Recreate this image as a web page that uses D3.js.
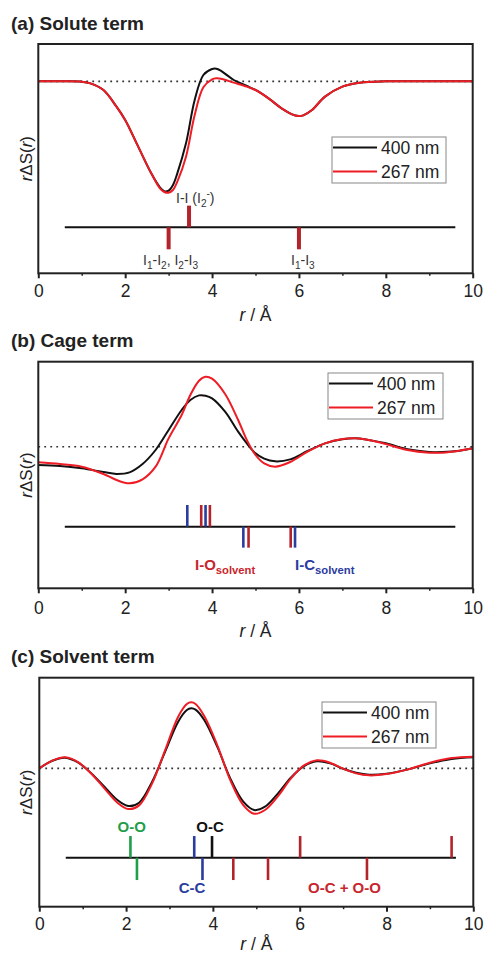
<!DOCTYPE html>
<html><head><meta charset="utf-8">
<script src="https://cdn.jsdelivr.net/npm/d3@7"></script>
<style>body{margin:0;background:#fff} svg{display:block} text{font-family:"Liberation Sans",Arial,sans-serif}</style>
</head><body>
<script>
// ---------- DATA ----------
const xTicks = [0, 2, 4, 6, 8, 10];
const xMinorTicks = [1, 3, 5, 7, 9];
const seriesNames = ["400 nm", "267 nm"];

// (a) Solute term
const soluteR   = [0,0.5,1.0,1.2,1.5,1.8,2.0,2.3,2.6,2.8,2.9,3.0,3.1,3.2,3.4,3.6,3.8,4.0,4.1,4.2,4.5,4.8,5.0,5.3,5.6,5.9,6.0,6.1,6.3,6.6,7.0,7.4,8.0,9.0,10];
const solute400 = [0,0,-0.01,-0.06,-0.26,-0.76,-1.16,-1.96,-2.76,-3.18,-3.30,-3.28,-3.11,-2.76,-1.86,-0.56,0.19,0.37,0.38,0.32,0.04,-0.14,-0.26,-0.51,-0.81,-1.02,-1.04,-1.02,-0.86,-0.46,-0.16,-0.04,0,0,0];
const solute267 = [0,0,-0.01,-0.06,-0.26,-0.76,-1.16,-1.96,-2.76,-3.21,-3.32,-3.34,-3.26,-3.01,-2.26,-1.01,-0.18,0.06,0.09,0.08,-0.04,-0.16,-0.26,-0.51,-0.81,-1.02,-1.04,-1.02,-0.86,-0.46,-0.16,-0.04,0,0,0];
const soluteSticksUp   = [3.47];
const soluteSticksDown = [3.0, 6.0];

// (b) Cage term
const cageR   = [0,0.5,1.0,1.5,1.8,2.1,2.4,2.7,3.0,3.3,3.5,3.7,3.85,4.0,4.3,4.6,4.8,5.0,5.2,5.45,5.8,6.2,6.6,7.0,7.3,7.6,8.0,8.5,9.0,9.3,9.7,10];
const cage400 = [-0.55,-0.58,-0.65,-0.76,-0.82,-0.77,-0.52,-0.10,0.50,1.10,1.40,1.54,1.53,1.45,1.05,0.45,0.10,-0.20,-0.36,-0.44,-0.38,-0.13,0.10,0.22,0.25,0.20,0.10,-0.08,-0.16,-0.16,-0.12,-0.05];
const cage267 = [-0.47,-0.52,-0.60,-0.82,-1.00,-1.10,-0.98,-0.60,0.25,0.95,1.55,1.98,2.10,2.04,1.58,0.80,0.20,-0.25,-0.50,-0.60,-0.46,-0.15,0.10,0.23,0.25,0.20,0.08,-0.10,-0.18,-0.18,-0.12,-0.05];
const cageIOUp   = [3.75, 3.95];
const cageIODown = [4.84, 5.81];
const cageICUp   = [3.43, 3.85];
const cageICDown = [4.72, 5.91];

// (c) Solvent term
const solventR   = [0,0.3,0.6,0.9,1.2,1.5,1.8,2.05,2.3,2.6,2.9,3.2,3.4,3.5,3.6,3.8,4.1,4.4,4.7,4.95,5.2,5.5,5.8,6.1,6.4,6.7,7.0,7.3,7.6,8.0,8.5,9.0,9.5,10];
const solvent400 = [0,0.23,0.32,0.17,-0.15,-0.55,-0.95,-1.13,-1.03,-0.40,0.50,1.40,1.75,1.80,1.76,1.45,0.65,-0.30,-1.00,-1.25,-1.15,-0.75,-0.27,0.07,0.21,0.15,-0.01,-0.13,-0.19,-0.16,-0.03,0.15,0.28,0.33];
const solvent267 = [0,0.23,0.33,0.18,-0.16,-0.60,-1.03,-1.22,-1.11,-0.45,0.55,1.55,1.93,1.98,1.93,1.57,0.70,-0.35,-1.10,-1.36,-1.25,-0.83,-0.30,0.09,0.24,0.17,-0.01,-0.15,-0.21,-0.17,-0.03,0.17,0.31,0.35];
const solventOOUp   = [2.10];
const solventOODown = [2.25];
const solventCCUp   = [3.57];
const solventCCDown = [3.76];
const solventOCUp   = [3.98];
const solventMixUp   = [6.01, 9.50];
const solventMixDown = [4.47, 5.27, 7.55];

// ---------- STYLE / LAYOUT ----------
const W = 486, H = 955;
const C_BLACK = "#111111", C_RED = "#ee1c24", C_DRED = "#b3232b", C_BLUE = "#2b3c9f", C_GREEN = "#1f9e4a";
const FONT = '"Liberation Sans", Arial, sans-serif';

const svg = d3.select("body").append("svg").attr("width", W).attr("height", H);

const panels = [
  { title: "(a) Solute term", r: soluteR, s1: solute400, s2: solute267,
    x0: 38.3, x1: 472.7, y0: 44, y1: 273.3, yDom: [-5.76, 1.12],
    base: -4.38, up: -3.73, down: -5.04, stickW: 4,
    legend: { x: 332, y: 137, w: 114, h: 46 }, titleY: 30, tickLabelTop: 285, axisTitleY: 321,
    sticks: [ { v: soluteSticksUp, dir: 1, c: C_DRED }, { v: soluteSticksDown, dir: -1, c: C_DRED } ] },
  { title: "(b) Cage term", r: cageR, s1: cage400, s2: cage267,
    x0: 38.3, x1: 472.7, y0: 361.7, y1: 588.3, yDom: [-4.25, 2.55],
    base: -2.40, up: -1.75, down: -3.03, stickW: 2.6,
    legend: { x: 328, y: 373, w: 115, h: 46 }, titleY: 347, tickLabelTop: 601.5, axisTitleY: 637,
    sticks: [ { v: cageICUp, dir: 1, c: C_BLUE }, { v: cageIOUp, dir: 1, c: C_DRED },
              { v: cageICDown, dir: -1, c: C_BLUE }, { v: cageIODown, dir: -1, c: C_DRED } ] },
  { title: "(c) Solvent term", r: solventR, s1: solvent400, s2: solvent267,
    x0: 39.3, x1: 473.3, y0: 677.7, y1: 906.7, yDom: [-4.15, 2.72],
    base: -2.68, up: -2.03, down: -3.35, stickW: 2.6,
    legend: { x: 322, y: 702, w: 114, h: 46 }, titleY: 663, tickLabelTop: 918, axisTitleY: 950,
    sticks: [ { v: solventOOUp, dir: 1, c: C_GREEN }, { v: solventOODown, dir: -1, c: C_GREEN },
              { v: solventCCUp, dir: 1, c: C_BLUE }, { v: solventCCDown, dir: -1, c: C_BLUE },
              { v: solventOCUp, dir: 1, c: C_BLACK },
              { v: solventMixUp, dir: 1, c: C_DRED }, { v: solventMixDown, dir: -1, c: C_DRED } ] }
];

function richText(g, x, y, parts, opts) {
  const t = g.append("text").attr("x", x).attr("y", y)
    .attr("font-size", opts.size).attr("font-weight", opts.weight || "normal")
    .attr("fill", opts.fill || "#222").attr("text-anchor", opts.anchor || "start");
  let shift = 0;
  parts.forEach(p => {
    const ts = t.append("tspan").text(p.t);
    const target = p.sub ? opts.size * 0.28 : p.sup ? -opts.size * 0.4 : 0;
    if (target !== shift) { ts.attr("dy", target - shift); shift = target; }
    if (p.sub || p.sup) ts.attr("font-size", opts.size * (p.small || 0.72));
    if (p.i) ts.attr("font-style", "italic");
  });
  return t;
}

panels.forEach((p, idx) => {
  const x = d3.scaleLinear().domain([0, 10]).range([p.x0, p.x1]);
  const y = d3.scaleLinear().domain(p.yDom).range([p.y1, p.y0]);
  const g = svg.append("g");

  // title
  g.append("text").attr("x", 11).attr("y", p.titleY).attr("font-size", 19).attr("font-weight", "bold")
    .attr("fill", "#222").text(p.title);

  // zero dotted line
  g.append("line").attr("x1", x(0)).attr("x2", x(10)).attr("y1", y(0)).attr("y2", y(0))
    .attr("stroke", "#333").attr("stroke-width", 1.6).attr("stroke-dasharray", "1.8,4.2");

  // stick baseline
  g.append("line").attr("x1", x(0.61)).attr("x2", x(9.6)).attr("y1", y(p.base)).attr("y2", y(p.base))
    .attr("stroke", C_BLACK).attr("stroke-width", 2);

  // sticks
  p.sticks.forEach(s => {
    g.selectAll(null).data(s.v).enter().append("line")
      .attr("x1", d => x(d)).attr("x2", d => x(d))
      .attr("y1", y(p.base)).attr("y2", s.dir > 0 ? y(p.up) : y(p.down))
      .attr("stroke", s.c).attr("stroke-width", p.stickW);
  });

  // curves
  const line = d3.line().x(d => x(d[0])).y(d => y(d[1])).curve(d3.curveCatmullRom.alpha(0.5));
  g.append("path").attr("d", line(p.r.map((r, i) => [r, p.s1[i]])))
    .attr("fill", "none").attr("stroke", C_BLACK).attr("stroke-width", 2);
  g.append("path").attr("d", line(p.r.map((r, i) => [r, p.s2[i]])))
    .attr("fill", "none").attr("stroke", C_RED).attr("stroke-width", 2);

  // frame
  g.append("rect").attr("x", p.x0).attr("y", p.y0).attr("width", p.x1 - p.x0).attr("height", p.y1 - p.y0)
    .attr("fill", "none").attr("stroke", "#222").attr("stroke-width", 2);

  // x axis (ticks outward)
  const ax = g.append("g").attr("transform", `translate(0,${p.y1})`)
    .call(d3.axisBottom(x).tickValues(xTicks).tickSize(5).tickPadding(p.tickLabelTop - p.y1 - 5).tickFormat(d3.format("d")));
  ax.select(".domain").remove();
  ax.selectAll("line").attr("stroke", "#222").attr("stroke-width", 2);
  ax.selectAll("text").attr("font-size", 17.5).attr("fill", "#222").attr("font-family", FONT);
  const axm = g.append("g").attr("transform", `translate(0,${p.y1})`)
    .call(d3.axisBottom(x).tickValues(xMinorTicks).tickSize(2.5).tickFormat(""));
  axm.select(".domain").remove();
  axm.selectAll("line").attr("stroke", "#222").attr("stroke-width", 1.5);

  // axis titles
  richText(g, (p.x0 + p.x1) / 2, p.axisTitleY, [{ t: "r", i: true }, { t: " / Å" }], { size: 17.5, anchor: "middle" });
  const yl = g.append("g").attr("transform", `translate(32,${(p.y0 + p.y1) / 2}) rotate(-90)`);
  richText(yl, 0, 0, [{ t: "r", i: true }, { t: "ΔS(" }, { t: "r", i: true }, { t: ")" }], { size: 17, anchor: "middle" });

  // legend
  const L = p.legend;
  g.append("rect").attr("x", L.x).attr("y", L.y).attr("width", L.w).attr("height", L.h)
    .attr("fill", "#fff").attr("stroke", "#888").attr("stroke-width", 1);
  [C_BLACK, C_RED].forEach((c, i) => {
    const ly = L.y + 10.5 + i * 24;
    g.append("line").attr("x1", L.x + 1).attr("x2", L.x + 45).attr("y1", ly).attr("y2", ly)
      .attr("stroke", c).attr("stroke-width", 2);
    g.append("text").attr("x", L.x + 49).attr("y", ly + 6.3).attr("font-size", 17.5).attr("fill", "#222")
      .text(seriesNames[i]);
  });

  // annotations
  if (idx === 0) {
    const o = { size: 14, fill: "#333" };
    richText(g, 176, 203, [{ t: "I-I (I" }, { t: "2", sub: true }, { t: "-", sup: true }, { t: ")" }], o);
    richText(g, 143, 265, [{ t: "I" }, { t: "1", sub: true }, { t: "-I" }, { t: "2", sub: true }, { t: ", I" }, { t: "2", sub: true }, { t: "-I" }, { t: "3", sub: true }], o);
    richText(g, 291, 265, [{ t: "I" }, { t: "1", sub: true }, { t: "-I" }, { t: "3", sub: true }], o);
  } else if (idx === 1) {
    richText(g, 195, 570, [{ t: "I-O" }, { t: "solvent", sub: true, small: 0.75 }], { size: 15, weight: "bold", fill: "#c8262d" });
    richText(g, 295, 570, [{ t: "I-C" }, { t: "solvent", sub: true, small: 0.75 }], { size: 15, weight: "bold", fill: C_BLUE });
  } else {
    const o = { size: 15, weight: "bold", anchor: "middle" };
    richText(g, 131.7, 832, [{ t: "O-O" }], Object.assign({}, o, { fill: C_GREEN }));
    richText(g, 210, 832, [{ t: "O-C" }], Object.assign({}, o, { fill: C_BLACK }));
    richText(g, 192, 893, [{ t: "C-C" }], Object.assign({}, o, { fill: C_BLUE }));
    richText(g, 344.5, 893, [{ t: "O-C + O-O" }], Object.assign({}, o, { fill: "#c8262d" }));
  }
});
</script>
</body></html>
